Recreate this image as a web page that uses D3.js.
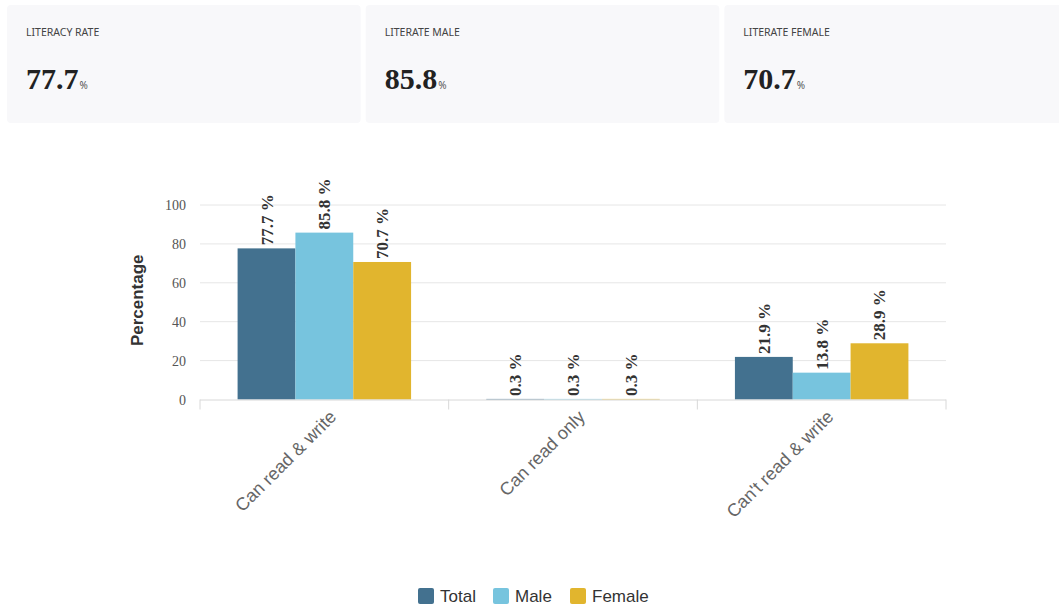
<!DOCTYPE html>
<html>
<head>
<meta charset="utf-8">
<script src="https://cdn.jsdelivr.net/npm/d3@7"></script>
<style>
  body { margin: 0; background: #fff; }
  svg { display: block; }
</style>
</head>
<body>
<svg width="1059" height="609"></svg>
<script>
// values
var cardLabels = ["LITERACY RATE", "LITERATE MALE", "LITERATE FEMALE"];
var cardValues = [77.7, 85.8, 70.7];

var categories = ["Can read & write", "Can read only", "Can't read & write"];
var seriesNames = ["Total", "Male", "Female"];
var totalValues = [77.7, 0.3, 21.9];
var maleValues = [85.8, 0.3, 13.8];
var femaleValues = [70.7, 0.3, 28.9];
var yTicks = [0, 20, 40, 60, 80, 100];

var colors = ["#43718f", "#77c4de", "#e1b52e"];
var seriesValues = [totalValues, maleValues, femaleValues];

var svg = d3.select("svg"),
    width = +svg.attr("width"),
    height = +svg.attr("height");

// ---- summary cards ----
var cardX = d3.scaleBand().domain(cardLabels).range([7, 1078]).paddingInner(0.014);

var card = svg.append("g").selectAll("g")
    .data(cardLabels)
    .enter().append("g")
    .attr("transform", function(d) { return "translate(" + cardX(d) + ",5)"; });

card.append("rect")
    .attr("width", cardX.bandwidth())
    .attr("height", 118)
    .attr("rx", 4)
    .attr("fill", "#f8f8fa");

card.append("text")
    .attr("x", 19)
    .attr("y", 31)
    .attr("font-family", "'Noto Sans', sans-serif")
    .attr("font-size", 10.5)
    .attr("fill", "#444")
    .text(function(d) { return d; });

var val = card.append("text")
    .attr("x", 19)
    .attr("y", 84)
    .attr("fill", "#222");
val.append("tspan")
    .attr("font-family", "'Liberation Serif', serif")
    .attr("font-weight", "bold")
    .attr("font-size", 30)
    .text(function(d, i) { return cardValues[i]; });
val.append("tspan")
    .attr("font-family", "'Noto Sans', sans-serif")
    .attr("font-size", 10)
    .attr("fill", "#555")
    .attr("dx", 1)
    .text("%");

// ---- bar chart ----
var plot = { left: 200, right: 946, top: 205, bottom: 399.5 };

var x0 = d3.scaleBand().domain(categories).range([plot.left, plot.right]);
var x1 = d3.scaleBand().domain(seriesNames).range([0, x0.bandwidth()]).paddingOuter(0.65).paddingInner(0);
var y = d3.scaleLinear().domain([0, 100]).range([plot.bottom, plot.top]);

// gridlines
svg.append("g").selectAll("line")
    .data(yTicks.filter(function(d) { return d > 0; }))
    .enter().append("line")
    .attr("x1", plot.left).attr("x2", plot.right)
    .attr("y1", function(d) { return y(d); })
    .attr("y2", function(d) { return y(d); })
    .attr("stroke", "#e6e6e6")
    .attr("stroke-width", 1);

// y axis labels
svg.append("g").selectAll("text")
    .data(yTicks)
    .enter().append("text")
    .attr("x", 186)
    .attr("y", function(d) { return y(d) + 5; })
    .attr("text-anchor", "end")
    .attr("font-family", "'Liberation Serif', serif")
    .attr("font-size", 14)
    .attr("fill", "#555")
    .text(function(d) { return d; });

svg.append("text")
    .attr("transform", "translate(143," + ((plot.top + plot.bottom) / 2 - 2) + ") rotate(-90)")
    .attr("text-anchor", "middle")
    .attr("font-family", "'Liberation Sans', Arial, sans-serif")
    .attr("font-weight", "bold")
    .attr("font-size", 17)
    .attr("fill", "#333")
    .text("Percentage");

// bars
var rows = categories.map(function(c, i) {
  return seriesNames.map(function(s, j) { return { cat: c, series: s, value: seriesValues[j][i], color: colors[j] }; });
});

var group = svg.append("g").selectAll("g")
    .data(rows)
    .enter().append("g")
    .attr("transform", function(d, i) { return "translate(" + x0(categories[i]) + ",0)"; });

group.selectAll("rect")
    .data(function(d) { return d; })
    .enter().append("rect")
    .attr("x", function(d) { return x1(d.series); })
    .attr("width", x1.bandwidth())
    .attr("y", function(d) { return y(d.value); })
    .attr("height", function(d) { return y(0) - y(d.value); })
    .attr("fill", function(d) { return d.color; });

group.selectAll("text")
    .data(function(d) { return d; })
    .enter().append("text")
    .attr("transform", function(d) {
      return "translate(" + (x1(d.series) + x1.bandwidth() / 2 + 6) + "," + (y(d.value) - 3) + ") rotate(-90)";
    })
    .attr("font-family", "'Liberation Serif', serif")
    .attr("font-weight", "bold")
    .attr("font-size", 17)
    .attr("fill", "#333")
    .text(function(d) { return d.value + " %"; });

// x axis
svg.append("line")
    .attr("x1", plot.left).attr("x2", plot.right)
    .attr("y1", plot.bottom + 0.5).attr("y2", plot.bottom + 0.5)
    .attr("stroke", "#d8d8d8");

svg.append("g").selectAll("line")
    .data(categories.concat(["end"]))
    .enter().append("line")
    .attr("x1", function(d) { return d === "end" ? plot.right : x0(d); })
    .attr("x2", function(d) { return d === "end" ? plot.right : x0(d); })
    .attr("y1", plot.bottom).attr("y2", plot.bottom + 10)
    .attr("stroke", "#d8d8d8");

svg.append("g").selectAll("text")
    .data(categories)
    .enter().append("text")
    .attr("transform", function(d) {
      return "translate(" + (x0(d) + x0.bandwidth() / 2 + 13) + ",418) rotate(-45)";
    })
    .attr("text-anchor", "end")
    .attr("font-family", "'Liberation Sans', Arial, sans-serif")
    .attr("font-size", 18)
    .attr("fill", "#666")
    .text(function(d) { return d; });

// legend
var legendX = d3.scaleOrdinal().domain(seriesNames).range([418, 493, 570]);

var legend = svg.append("g").selectAll("g")
    .data(seriesNames)
    .enter().append("g")
    .attr("transform", function(d) { return "translate(" + legendX(d) + ",588)"; });

legend.append("rect")
    .attr("width", 16).attr("height", 16)
    .attr("rx", 2)
    .attr("fill", function(d, i) { return colors[i]; });

legend.append("text")
    .attr("x", 22)
    .attr("y", 14)
    .attr("font-family", "'Liberation Sans', Arial, sans-serif")
    .attr("font-size", 17)
    .attr("fill", "#333")
    .text(function(d) { return d; });
</script>
</body>
</html>
